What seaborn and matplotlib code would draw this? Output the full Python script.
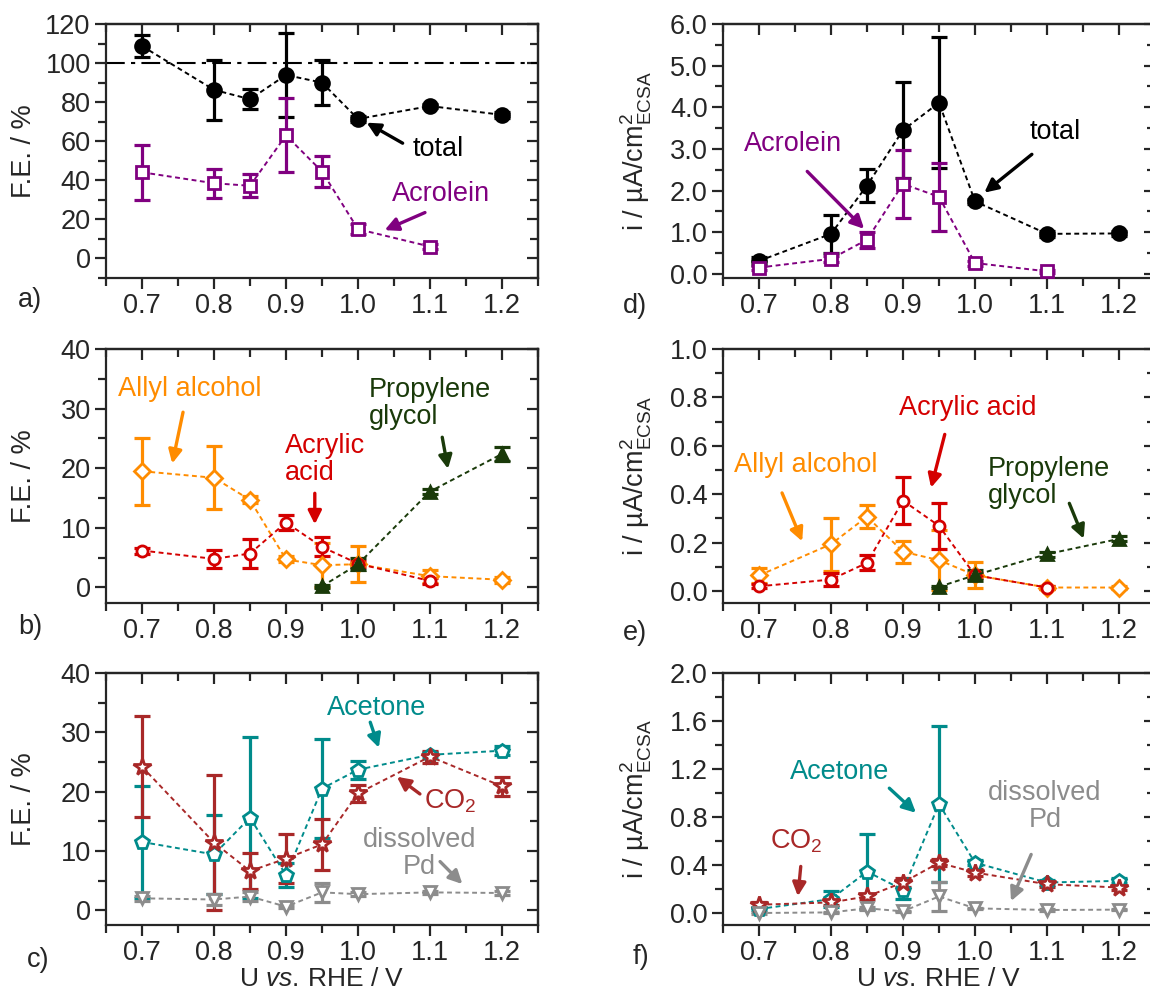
import matplotlib
matplotlib.use('Agg')
import matplotlib.pyplot as plt
import seaborn as sns
from matplotlib.ticker import MultipleLocator, FormatStrFormatter

# potentials (V vs RHE)
U = [0.7, 0.8, 0.85, 0.9, 0.95, 1.0, 1.1, 1.2]
U_short = [0.7, 0.8, 0.85, 0.9, 0.95, 1.0, 1.1]
U_pg = [0.95, 1.0, 1.1, 1.2]

# a) faradaic efficiency, total + acrolein
fe_total = [108.7, 86.3, 81.5, 93.9, 90.0, 71.4, 78.0, 73.5]
fe_total_err = [5.5, 15.4, 5.2, 21.3, 11.5, 1.5, 1.2, 1.5]
fe_acrolein = [44.1, 38.5, 37.2, 63.0, 44.5, 15.0, 6.1]
fe_acrolein_err = [14.1, 7.3, 5.9, 19.0, 7.9, 2.4, 1.5]

# d) partial currents, total + acrolein
i_total = [0.31, 0.96, 2.12, 3.45, 4.11, 1.74, 0.96, 0.97]
i_total_err = [0.10, 0.45, 0.39, 1.15, 1.58, 0.06, 0.08, 0.05]
i_acrolein = [0.15, 0.36, 0.82, 2.16, 1.85, 0.26, 0.06]
i_acrolein_err = [0.05, 0.08, 0.19, 0.81, 0.81, 0.06, 0.03]

# b) FE allyl alcohol, acrylic acid, propylene glycol
fe_allyl = [19.5, 18.4, 14.7, 4.7, 3.75, 3.9, 1.9, 1.3]
fe_allyl_err = [5.6, 5.3, 0.6, 0.5, 3.7, 3.0, 1.1, 0.5]
fe_acrylic = [6.2, 4.8, 5.7, 10.9, 6.8, 4.0, 1.1]
fe_acrylic_err = [0.5, 1.5, 2.4, 1.25, 1.6, 0.5, 0.5]
fe_pg = [0.2, 3.9, 16.1, 22.4]
fe_pg_err = [0.3, 1.0, 0.4, 1.2]

# e) currents allyl alcohol, acrylic acid, propylene glycol
i_allyl = [0.064, 0.193, 0.307, 0.162, 0.127, 0.065, 0.014, 0.014]
i_allyl_err = [0.03, 0.11, 0.048, 0.045, 0.125, 0.055, 0.008, 0.005]
i_acrylic = [0.019, 0.047, 0.116, 0.373, 0.269, 0.065, 0.014]
i_acrylic_err = [0.008, 0.028, 0.031, 0.097, 0.095, 0.01, 0.005]
i_pg = [0.017, 0.065, 0.152, 0.215]
i_pg_err = [0.005, 0.02, 0.01, 0.01]

# c) FE acetone, CO2, dissolved Pd
fe_acetone = [11.5, 9.4, 15.6, 5.9, 20.5, 23.7, 26.2, 26.9]
fe_acetone_err = [9.4, 6.6, 13.6, 2.0, 8.3, 1.5, 0.5, 0.8]
fe_co2 = [24.2, 11.4, 6.6, 8.7, 11.1, 19.7, 25.9, 20.9]
fe_co2_err = [8.5, 11.4, 3.1, 4.1, 4.3, 1.4, 1.0, 1.6]
fe_pd = [2.0, 1.8, 2.3, 0.6, 3.0, 2.7, 3.0, 2.9]
fe_pd_err = [0.4, 1.0, 0.8, 0.3, 1.6, 0.3, 0.3, 0.3]

# f) currents acetone, CO2, dissolved Pd
i_acetone = [0.033, 0.116, 0.345, 0.193, 0.908, 0.419, 0.254, 0.268]
i_acetone_err = [0.01, 0.07, 0.31, 0.08, 0.65, 0.02, 0.02, 0.02]
i_co2 = [0.069, 0.088, 0.138, 0.254, 0.419, 0.337, 0.240, 0.212]
i_co2_err = [0.02, 0.02, 0.02, 0.04, 0.03, 0.03, 0.02, 0.02]
i_pd = [0.0, 0.005, 0.039, 0.014, 0.138, 0.039, 0.025, 0.028]
i_pd_err = [0.005, 0.005, 0.01, 0.005, 0.12, 0.005, 0.005, 0.005]

BLACK = '#000000'
PURPLE = '#800080'
ORANGE = '#FF8C00'
RED = '#D40000'
GREEN = '#1A3A0A'
TEAL = '#008B8B'
DKRED = '#A82828'
GRAY = '#8C8C8C'

sns.set_style("ticks")
plt.rcParams['font.family'] = ['Liberation Sans', 'DejaVu Sans']
plt.rcParams['mathtext.fontset'] = 'custom'
plt.rcParams['mathtext.rm'] = 'Liberation Sans'
plt.rcParams['mathtext.it'] = 'Liberation Sans:italic'
plt.rcParams['axes.linewidth'] = 1.6

FS = 19.5
fig = plt.figure(figsize=(11.5, 9.96), dpi=100)


def px_axes(l, t, r, b):
    return fig.add_axes([l / 1150, 1 - b / 996, (r - l) / 1150, (b - t) / 996])


def series(ax, x, y, err, color, marker, filled, ms=9):
    ax.errorbar(x, y, yerr=err, fmt='none', ecolor=color, elinewidth=2.3,
                capsize=6, capthick=2.3, zorder=2)
    sns.lineplot(x=x, y=y, ax=ax, color=color, lw=1.4, linestyle=(0, (2.5, 1.8)),
                 marker=marker, markersize=ms,
                 markerfacecolor=color if filled else 'white',
                 markeredgecolor=color, markeredgewidth=2, legend=False, zorder=3)


def style(ax, ylim, ymaj, ymin, yfmt):
    ax.set_xlim(0.65, 1.25)
    ax.set_ylim(*ylim)
    ax.xaxis.set_major_locator(MultipleLocator(0.1))
    ax.xaxis.set_minor_locator(MultipleLocator(0.05))
    ax.xaxis.set_major_formatter(FormatStrFormatter('%.1f'))
    ax.yaxis.set_major_locator(MultipleLocator(ymaj))
    ax.yaxis.set_minor_locator(MultipleLocator(ymin))
    ax.yaxis.set_major_formatter(FormatStrFormatter(yfmt))
    ax.tick_params(which='major', direction='out', length=8, width=1.6, labelsize=FS, pad=3)
    ax.tick_params(which='minor', direction='out', length=6, width=1.6)
    ax.set_xlabel('')
    ax.set_ylabel('')
    # mirrored ticks pointing inward on top and right
    top = ax.secondary_xaxis('top')
    top.xaxis.set_major_locator(MultipleLocator(0.1))
    top.xaxis.set_minor_locator(MultipleLocator(0.05))
    right = ax.secondary_yaxis('right')
    right.yaxis.set_major_locator(MultipleLocator(ymaj))
    right.yaxis.set_minor_locator(MultipleLocator(ymin))
    for sec in (top, right):
        sec.tick_params(which='major', direction='in', length=8, width=1.6,
                        labeltop=False, labelright=False)
        sec.tick_params(which='minor', direction='in', length=6, width=1.6)


def arrow(ax, tail, head, color):
    ax.annotate('', xy=head, xytext=tail,
                arrowprops=dict(arrowstyle='-|>', color=color, lw=2.4,
                                mutation_scale=20, shrinkA=0, shrinkB=0))


def label(ax, x, y, s, color, ha='center'):
    ax.text(x, y, s, color=color, fontsize=FS, ha=ha, va='center', linespacing=1.05)


ax_a = px_axes(106, 24, 538, 278)
ax_d = px_axes(723, 24, 1155, 278)
ax_b = px_axes(106, 349, 538, 603)
ax_e = px_axes(723, 349, 1155, 603)
ax_c = px_axes(106, 673, 538, 925)
ax_f = px_axes(723, 673, 1155, 925)

# a)
ax_a.axhline(100, color='black', lw=1.5, ls=(0, (9, 3, 2, 3)), zorder=1)
series(ax_a, U, fe_total, fe_total_err, BLACK, 'o', True, 10)
series(ax_a, U_short, fe_acrolein, fe_acrolein_err, PURPLE, 's', False, 8)
style(ax_a, (-10, 120), 20, 10, '%d')
label(ax_a, 1.112, 56, 'total', BLACK)
arrow(ax_a, (1.062, 59), (1.012, 69.5), BLACK)
label(ax_a, 1.115, 33, 'Acrolein', PURPLE)
arrow(ax_a, (1.093, 23.5), (1.037, 14.5), PURPLE)

# d)
series(ax_d, U, i_total, i_total_err, BLACK, 'o', True, 10)
series(ax_d, U_short, i_acrolein, i_acrolein_err, PURPLE, 's', False, 8)
style(ax_d, (-0.1, 6.0), 1.0, 0.5, '%.1f')
label(ax_d, 1.112, 3.4, 'total', BLACK)
arrow(ax_d, (1.079, 2.87), (1.013, 1.95), BLACK)
label(ax_d, 0.747, 3.13, 'Acrolein', PURPLE)
arrow(ax_d, (0.767, 2.46), (0.846, 1.08), PURPLE)

# b)
series(ax_b, U, fe_allyl, fe_allyl_err, ORANGE, 'D', False, 8)
series(ax_b, U_short, fe_acrylic, fe_acrylic_err, RED, 'o', False, 8)
series(ax_b, U_pg, fe_pg, fe_pg_err, GREEN, '^', True, 9)
style(ax_b, (-2.6, 40), 10, 5, '%d')
label(ax_b, 0.767, 33.3, 'Allyl alcohol', ORANGE)
arrow(ax_b, (0.757, 29.4), (0.742, 20.8), ORANGE)
label(ax_b, 0.898, 21.5, 'Acrylic\nacid', RED, ha='left')
arrow(ax_b, (0.94, 15.8), (0.94, 10.6), RED)
label(ax_b, 1.015, 30.9, 'Propylene\nglycol', GREEN, ha='left')
arrow(ax_b, (1.117, 25.2), (1.125, 19.9), GREEN)

# e)
series(ax_e, U, i_allyl, i_allyl_err, ORANGE, 'D', False, 8)
series(ax_e, U_short, i_acrylic, i_acrylic_err, RED, 'o', False, 8)
series(ax_e, U_pg, i_pg, i_pg_err, GREEN, '^', True, 9)
style(ax_e, (-0.05, 1.0), 0.2, 0.1, '%.1f')
label(ax_e, 0.99, 0.755, 'Acrylic acid', RED)
arrow(ax_e, (0.958, 0.647), (0.939, 0.427), RED)
label(ax_e, 0.765, 0.52, 'Allyl alcohol', ORANGE)
arrow(ax_e, (0.732, 0.405), (0.76, 0.205), ORANGE)
label(ax_e, 1.018, 0.448, 'Propylene\nglycol', GREEN, ha='left')
arrow(ax_e, (1.131, 0.362), (1.151, 0.216), GREEN)

# c)
series(ax_c, U, fe_acetone, fe_acetone_err, TEAL, 'p', False, 10)
series(ax_c, U, fe_co2, fe_co2_err, DKRED, '*', False, 13)
series(ax_c, U, fe_pd, fe_pd_err, GRAY, 'v', False, 9)
style(ax_c, (-2.5, 40), 10, 5, '%d')
label(ax_c, 1.026, 34.1, 'Acetone', TEAL)
arrow(ax_c, (1.017, 31.7), (1.029, 27.4), TEAL)
label(ax_c, 1.128, 18.4, 'CO$_2$', DKRED)
arrow(ax_c, (1.086, 19.6), (1.054, 22.5), DKRED)
label(ax_c, 1.085, 9.6, 'dissolved\nPd', GRAY)
arrow(ax_c, (1.114, 8.2), (1.145, 4.4), GRAY)

# f)
series(ax_f, U, i_acetone, i_acetone_err, TEAL, 'p', False, 10)
series(ax_f, U, i_co2, i_co2_err, DKRED, '*', False, 13)
series(ax_f, U, i_pd, i_pd_err, GRAY, 'v', False, 9)
style(ax_f, (-0.1, 2.0), 0.4, 0.2, '%.1f')
label(ax_f, 0.812, 1.174, 'Acetone', TEAL)
arrow(ax_f, (0.881, 1.04), (0.918, 0.835), TEAL)
label(ax_f, 0.752, 0.6, 'CO$_2$', DKRED)
arrow(ax_f, (0.758, 0.388), (0.754, 0.14), DKRED)
label(ax_f, 1.097, 0.89, 'dissolved\nPd', GRAY)
arrow(ax_f, (1.078, 0.488), (1.05, 0.099), GRAY)

for ax in (ax_a, ax_b, ax_c):
    ax.set_ylabel('F.E. / %', fontsize=FS)
    ax.yaxis.set_label_coords(-0.16, 0.5)
for ax in (ax_d, ax_e, ax_f):
    ax.set_ylabel('i / µA/cm$^{2}_{\\mathrm{ECSA}}$', fontsize=FS)
    ax.yaxis.set_label_coords(-0.16, 0.5)
for ax in (ax_c, ax_f):
    ax.set_xlabel('U $\\mathit{vs.}\\,$RHE / V', fontsize=19)
    ax.xaxis.set_label_coords(0.5, -0.165)

for s, (x, y) in zip('abcdef', [(30, 300), (30, 627), (38, 960),
                                 (635, 306), (635, 633), (641, 957)]):
    fig.text(x / 1150, 1 - y / 996, s + ')', fontsize=FS, ha='center', va='center')

fig.savefig('out.png', dpi=100)
